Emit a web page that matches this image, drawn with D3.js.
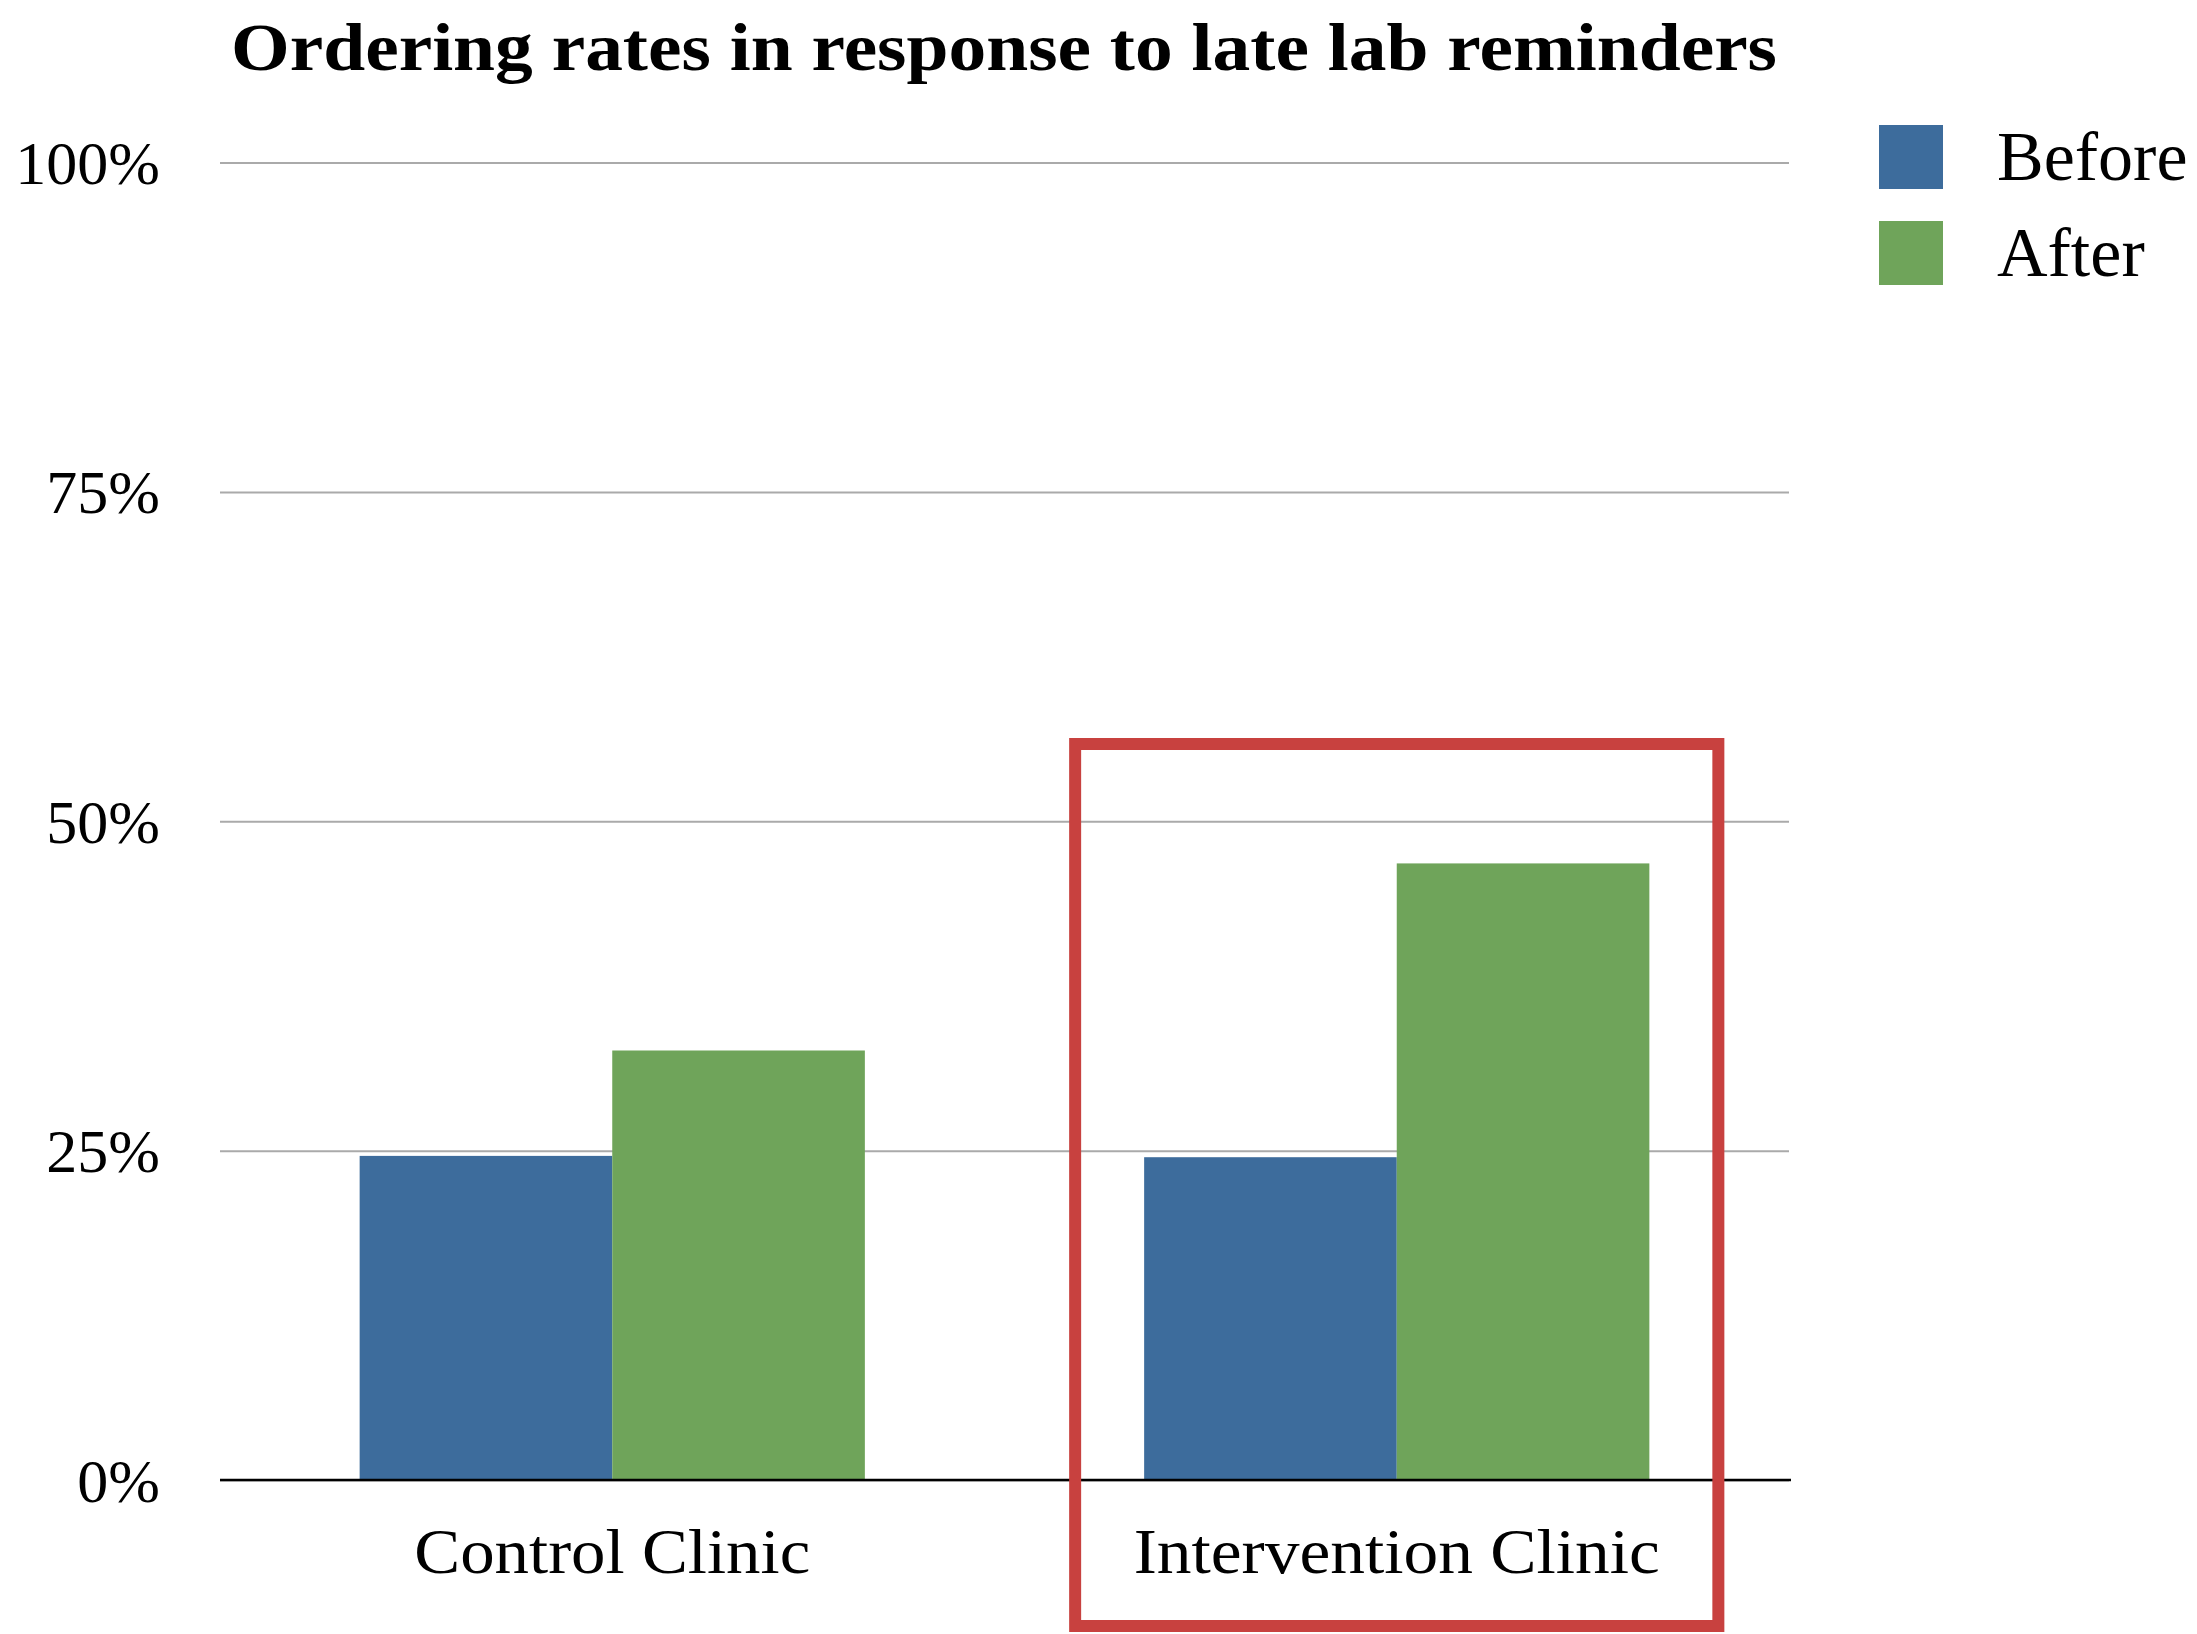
<!DOCTYPE html>
<html>
<head>
<meta charset="utf-8">
<script src="https://cdn.jsdelivr.net/npm/d3@7"></script>
<style>
  body { margin: 0; background: #fff; }
  svg { display: block; }
  text { font-family: "Liberation Serif", "DejaVu Serif", serif; fill: #000; }
</style>
</head>
<body>
<svg id="chart"></svg>
<script>
const width = 2197;
const height = 1634;

// data
const clinics = ["Control Clinic", "Intervention Clinic"];
const periods = ["Before", "After"];
const before = [0.246, 0.245];
const after = [0.326, 0.468];
const yTicks = [0, 0.25, 0.5, 0.75, 1];
const colors = ["#3d6c9c", "#6fa45a"];
const highlighted = "Intervention Clinic";

var svg = d3.select("#chart").attr("width", width).attr("height", height);

var x0 = d3.scaleBand()
    .domain(clinics)
    .range([220, 1789])
    .paddingInner(0.356)
    .paddingOuter(0.178);

var x1 = d3.scaleBand()
    .domain(periods)
    .range([0, x0.bandwidth()]);

var y = d3.scaleLinear()
    .domain([0, 1])
    .range([1480, 162.5]);

var color = d3.scaleOrdinal().domain(periods).range(colors);

// gridlines + tick labels
var yAxis = d3.axisLeft(y)
    .tickValues(yTicks)
    .tickSize(-(1789 - 220))
    .tickPadding(60)
    .tickFormat(d3.format(".0%"));

svg.append("g")
    .attr("transform", "translate(220,0)")
    .call(yAxis)
    .call(g => g.select(".domain").remove())
    .call(g => g.selectAll(".tick line")
        .attr("stroke", "#aaaaaa")
        .attr("stroke-width", 2))
    .call(g => g.selectAll(".tick text")
        .attr("font-size", 62)
        .attr("font-family", "Liberation Serif")
        .attr("fill", "#000")
        .attr("dy", "0.34em"));

// bars
var rows = clinics.map((c, i) => ({clinic: c, values: [before[i], after[i]]}));

var groups = svg.append("g").selectAll("g")
    .data(rows)
    .join("g")
    .attr("transform", d => "translate(" + x0(d.clinic) + ",0)");

groups.selectAll("rect")
    .data(d => periods.map((p, j) => ({period: p, value: d.values[j]})))
    .join("rect")
    .attr("x", d => x1(d.period))
    .attr("y", d => y(d.value))
    .attr("width", x1.bandwidth())
    .attr("height", d => y(0) - y(d.value))
    .attr("fill", d => color(d.period));

// baseline
svg.append("line")
    .attr("x1", 220).attr("x2", 1791)
    .attr("y1", y(0)).attr("y2", y(0))
    .attr("stroke", "#000")
    .attr("stroke-width", 2.5);

// category labels
var labelWidths = {"Control Clinic": 396, "Intervention Clinic": 526};
svg.append("g").selectAll("text")
    .data(clinics)
    .join("text")
    .attr("x", d => x0(d) + x0.bandwidth() / 2)
    .attr("y", 1573)
    .attr("text-anchor", "middle")
    .attr("font-size", 63)
    .attr("textLength", d => labelWidths[d])
    .attr("lengthAdjust", "spacingAndGlyphs")
    .text(d => d);

// highlight box round the intervention clinic
var hx = x0(highlighted);
svg.append("rect")
    .attr("x", hx - 69)
    .attr("y", 744)
    .attr("width", x0.bandwidth() + 138)
    .attr("height", 882)
    .attr("fill", "none")
    .attr("stroke", "#c8413f")
    .attr("stroke-width", 12);

// title
svg.append("text")
    .attr("x", 1004)
    .attr("y", 70)
    .attr("text-anchor", "middle")
    .attr("font-size", 68)
    .attr("font-weight", "bold")
    .attr("textLength", 1546)
    .attr("lengthAdjust", "spacingAndGlyphs")
    .text("Ordering rates in response to late lab reminders");

// legend
var legend = svg.append("g").selectAll("g")
    .data(periods)
    .join("g")
    .attr("transform", (d, i) => "translate(1879," + (125 + i * 96) + ")");

legend.append("rect")
    .attr("width", 64)
    .attr("height", 64)
    .attr("fill", d => color(d));

legend.append("text")
    .attr("x", 118)
    .attr("y", 55)
    .attr("font-size", 70)
    .text(d => d);
</script>
</body>
</html>
